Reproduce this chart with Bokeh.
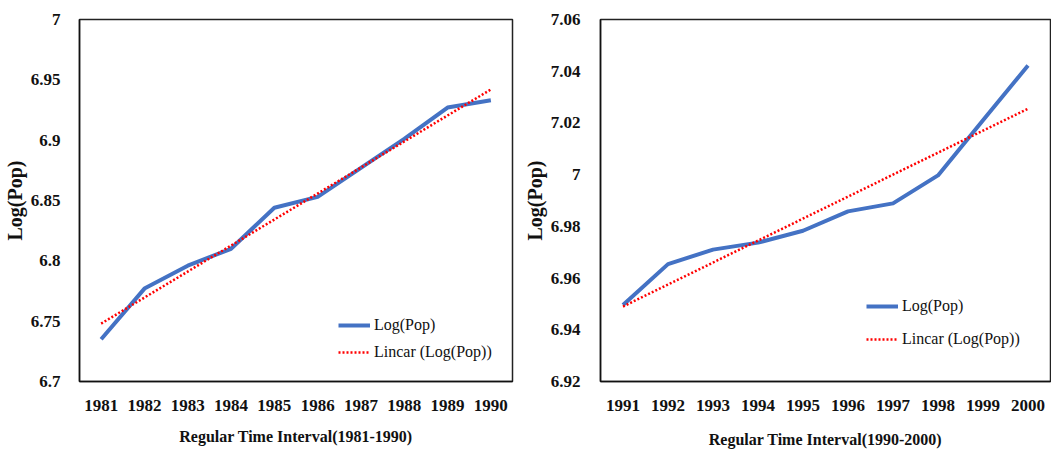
from bokeh.plotting import figure
from bokeh.layouts import row
from bokeh.models import FixedTicker, Legend, LegendItem, Range1d
from bokeh.embed import file_html
from bokeh.resources import INLINE

# ---- data: panel A (1981-1990) ----
years_a = [1981, 1982, 1983, 1984, 1985, 1986, 1987, 1988, 1989, 1990]
logpop_a = [6.735, 6.777, 6.796, 6.810, 6.844, 6.853, 6.877, 6.901, 6.927, 6.933]
trend_years_a = [1981, 1990]
trend_a = [6.748, 6.942]
yticks_a = [6.7, 6.75, 6.8, 6.85, 6.9, 6.95, 7.0]
ytick_labels_a = ["6.7", "6.75", "6.8", "6.85", "6.9", "6.95", "7"]

# ---- data: panel B (1991-2000) ----
years_b = [1991, 1992, 1993, 1994, 1995, 1996, 1997, 1998, 1999, 2000]
logpop_b = [6.9496, 6.9654, 6.9710, 6.9737, 6.9783, 6.9858, 6.9889, 6.9997, 7.0210, 7.0422]
trend_years_b = [1991, 2000]
trend_b = [6.949, 7.0255]
yticks_b = [6.92, 6.94, 6.96, 6.98, 7.0, 7.02, 7.04, 7.06]
ytick_labels_b = ["6.92", "6.94", "6.96", "6.98", "7", "7.02", "7.04", "7.06"]

series_label = "Log(Pop)"
trend_label = "Lincar (Log(Pop))"
y_title = "Log(Pop)"
x_title_a = "Regular Time Interval(1981-1990)"
x_title_b = "Regular Time Interval(1990-2000)"

SERIF = "Liberation Serif"
BLUE = "#4472C4"
RED = "#FF0000"


def panel(years, vals, tyears, tvals, yticks, ylabels, xtitle,
          width, height, bl, br, bt, bb, ylo, yhi,
          ystand, legend_loc, legend_spacing, xtitle_stand):
    p = figure(width=width, height=height, output_backend="svg",
               toolbar_location=None,
               x_range=Range1d(years[0] - 0.5, years[-1] + 0.5),
               y_range=Range1d(ylo, yhi),
               min_border_left=bl, min_border_right=br,
               min_border_top=bt, min_border_bottom=bb)
    p.background_fill_color = "white"
    p.border_fill_color = "white"
    p.outline_line_color = "#222222"
    p.outline_line_width = 1.5
    p.xgrid.visible = False
    p.ygrid.visible = False

    r1 = p.line(years, vals, line_color=BLUE, line_width=4, line_join="round")
    r2 = p.line(tyears, tvals, line_color=RED, line_width=2.5,
                line_dash="2 2")

    for ax in (p.xaxis[0], p.yaxis[0]):
        ax.major_tick_line_color = None
        ax.minor_tick_line_color = None
        ax.axis_line_color = "#111111"
        ax.axis_line_width = 1.5
        ax.major_label_text_font = SERIF
        ax.major_label_text_font_style = "bold"
        ax.major_label_text_font_size = "17px"
        ax.major_label_text_color = "#111111"
        ax.axis_label_text_font = SERIF
        ax.axis_label_text_font_style = "bold"
        ax.axis_label_text_color = "#111111"

    p.xaxis.ticker = FixedTicker(ticks=years)
    p.xaxis.major_label_overrides = {y: str(y) for y in years}
    p.xaxis.major_label_standoff = 12
    p.xaxis.axis_label = xtitle
    p.xaxis.axis_label_text_font_size = "16px"
    p.xaxis.axis_label_standoff = xtitle_stand

    p.yaxis.ticker = FixedTicker(ticks=yticks)
    p.yaxis.major_label_overrides = {t: l for t, l in zip(yticks, ylabels)}
    p.yaxis.major_label_standoff = ystand
    p.yaxis.axis_label = y_title
    p.yaxis.axis_label_text_font_size = "20px"
    p.yaxis.axis_label_standoff = 2

    legend = Legend(items=[LegendItem(label=series_label, renderers=[r1]),
                           LegendItem(label=trend_label, renderers=[r2])],
                    location=legend_loc)
    legend.border_line_color = None
    legend.background_fill_alpha = 0
    legend.padding = 0
    legend.margin = 0
    legend.spacing = legend_spacing
    legend.glyph_width = 32
    legend.glyph_height = 20
    legend.label_height = 20
    legend.label_standoff = 4
    legend.label_text_font = SERIF
    legend.label_text_font_size = "16px"
    legend.label_text_color = "#111111"
    p.add_layout(legend)
    return p


p1 = panel(years_a, logpop_a, trend_years_a, trend_a, yticks_a, ytick_labels_a,
           x_title_a, width=520, height=452, bl=68, br=8, bt=17, bb=71,
           ylo=6.7, yhi=7.0, ystand=13, legend_loc=(259, 19),
           legend_spacing=7, xtitle_stand=14)
p2 = panel(years_b, logpop_b, trend_years_b, trend_b, yticks_b, ytick_labels_b,
           x_title_b, width=531, height=452, bl=72, br=1, bt=19, bb=70,
           ylo=6.92, yhi=7.06, ystand=14, legend_loc=(266, 32),
           legend_spacing=13, xtitle_stand=17)

layout = row(p1, p2)
open("out.html", "w").write(file_html(layout, INLINE))
